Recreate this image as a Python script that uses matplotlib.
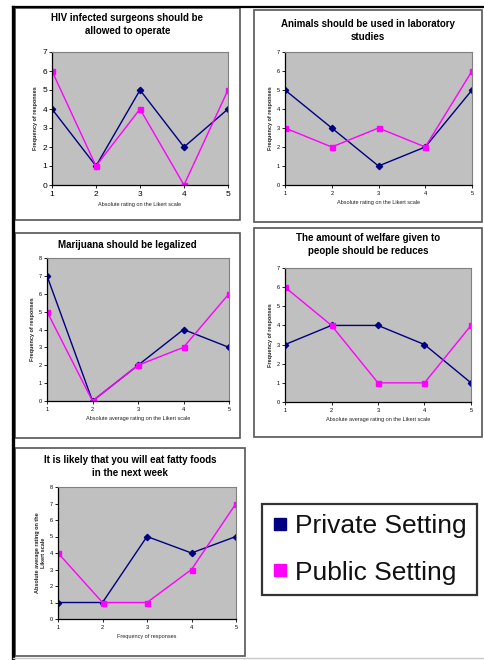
import matplotlib.pyplot as plt
from matplotlib.patches import Rectangle
from matplotlib.lines import Line2D

W, H = 484, 660

ratings = [1, 2, 3, 4, 5]

hiv_private = [4, 1, 5, 2, 4]
hiv_public = [6, 1, 4, 0, 5]

animals_private = [5, 3, 1, 2, 5]
animals_public = [3, 2, 3, 2, 6]

marijuana_private = [7, 0, 2, 4, 3]
marijuana_public = [5, 0, 2, 3, 6]

welfare_private = [3, 4, 4, 3, 1]
welfare_public = [6, 4, 1, 1, 4]

fatty_private = [1, 1, 5, 4, 5]
fatty_public = [4, 1, 1, 3, 7]

NAVY = '#000080'
MAGENTA = '#ff00ff'
PLOT_BG = '#c0c0c0'

plt.rcParams['font.family'] = ['Liberation Sans', 'DejaVu Sans']

fig = plt.figure(figsize=(W / 100, H / 100), dpi=100)


def fx(x):
    return x / W


def fy(y):
    return 1 - y / H


def box(x0, y0, x1, y1, lw=1.2, color='#555555'):
    fig.patches.append(Rectangle((fx(x0), fy(y1)), fx(x1 - x0), (y1 - y0) / H,
                                 transform=fig.transFigure, fill=False,
                                 edgecolor=color, linewidth=lw))


def panel(frame, area, title, title_y, private, public, ymax, xlabel, ylabel,
          xtick_size=4):
    box(*frame)
    x0, y0, x1, y1 = area
    ax = fig.add_axes([fx(x0), fy(y1), fx(x1 - x0), (y1 - y0) / H])
    ax.set_facecolor(PLOT_BG)
    ax.plot(ratings, private, color=NAVY, lw=1.0, marker='D', ms=3.2,
            mfc=NAVY, mec=NAVY)
    ax.plot(ratings, public, color=MAGENTA, lw=1.0, marker='s', ms=3.6,
            mfc=MAGENTA, mec=MAGENTA)
    ax.set_xlim(1, 5)
    ax.set_ylim(0, ymax)
    ax.set_xticks(ratings)
    ax.set_yticks(range(ymax + 1))
    ax.tick_params(axis='x', labelsize=xtick_size, length=2, width=0.6, pad=2)
    ax.tick_params(axis='y', labelsize=xtick_size, length=2, width=0.6, pad=1.5)
    for side in ('top', 'right'):
        ax.spines[side].set_color('#808080')
        ax.spines[side].set_linewidth(0.8)
    for side in ('left', 'bottom'):
        ax.spines[side].set_color('black')
        ax.spines[side].set_linewidth(0.9)
    ax.set_xlabel(xlabel, fontsize=4, labelpad=3, color='#222222')
    ax.set_ylabel(ylabel, fontsize=4, fontweight='bold', labelpad=3,
                  color='#222222', linespacing=1.2)
    cx = (frame[0] + frame[2]) / 2
    fig.text(fx(cx), fy(title_y), title, ha='center', va='top',
             fontsize=7, fontweight='bold', linespacing=1.35)
    return ax


panel((15, 8, 240, 220), (52, 52, 228, 185),
      'HIV infected surgeons should be\nallowed to operate', 13,
      hiv_private, hiv_public, 7,
      'Absolute rating on the Likert scale', 'Frequency of responses',
      xtick_size=6)

panel((254, 10, 482, 222), (285, 52, 472, 185),
      'Animals should be used in laboratory\nstudies', 19,
      animals_private, animals_public, 7,
      'Absolute rating on the Likert scale', 'Frequency of responses')

panel((15, 233, 240, 438), (47, 258, 229, 401),
      'Marijuana should be legalized', 240,
      marijuana_private, marijuana_public, 8,
      'Absolute average rating on the Likert scale', 'Frequency of responses')

panel((254, 228, 482, 437), (285, 268, 471, 402),
      'The amount of welfare given to\npeople should be reduces', 233,
      welfare_private, welfare_public, 7,
      'Absolute average rating on the Likert scale', 'Frequency of responses')

panel((15, 448, 245, 656), (58, 487, 236, 619),
      'It is likely that you will eat fatty foods\nin the next week', 455,
      fatty_private, fatty_public, 8,
      'Frequency of responses', 'Absolute average rating on the\nLikert scale')

# outer frame of the figure sheet
fig.add_artist(Line2D([fx(13), fx(13)], [fy(7), fy(660)], transform=fig.transFigure,
                      color='black', lw=2.4))
fig.add_artist(Line2D([fx(13), fx(484)], [fy(7), fy(7)], transform=fig.transFigure,
                      color='black', lw=1.6))
fig.add_artist(Line2D([fx(13), fx(484)], [fy(658), fy(658)], transform=fig.transFigure,
                      color='#c8c8c8', lw=1.0))

# legend for both settings
handles = [Line2D([], [], ls='none', marker='s', ms=9, mfc=NAVY, mec=NAVY),
           Line2D([], [], ls='none', marker='s', ms=9, mfc=MAGENTA, mec=MAGENTA)]
leg = fig.legend(handles, ['Private Setting', 'Public Setting'],
                 loc='center', bbox_to_anchor=(fx(369.5), fy(549.5)),
                 fontsize=19, frameon=True, fancybox=False, edgecolor='black',
                 handlelength=0.55, handletextpad=0.3, labelspacing=0.85,
                 borderpad=0.4, borderaxespad=0)
leg.get_frame().set_linewidth(1.6)
for t in leg.get_texts():
    t.set_color('#111111')

fig.savefig('out.png', dpi=100)
